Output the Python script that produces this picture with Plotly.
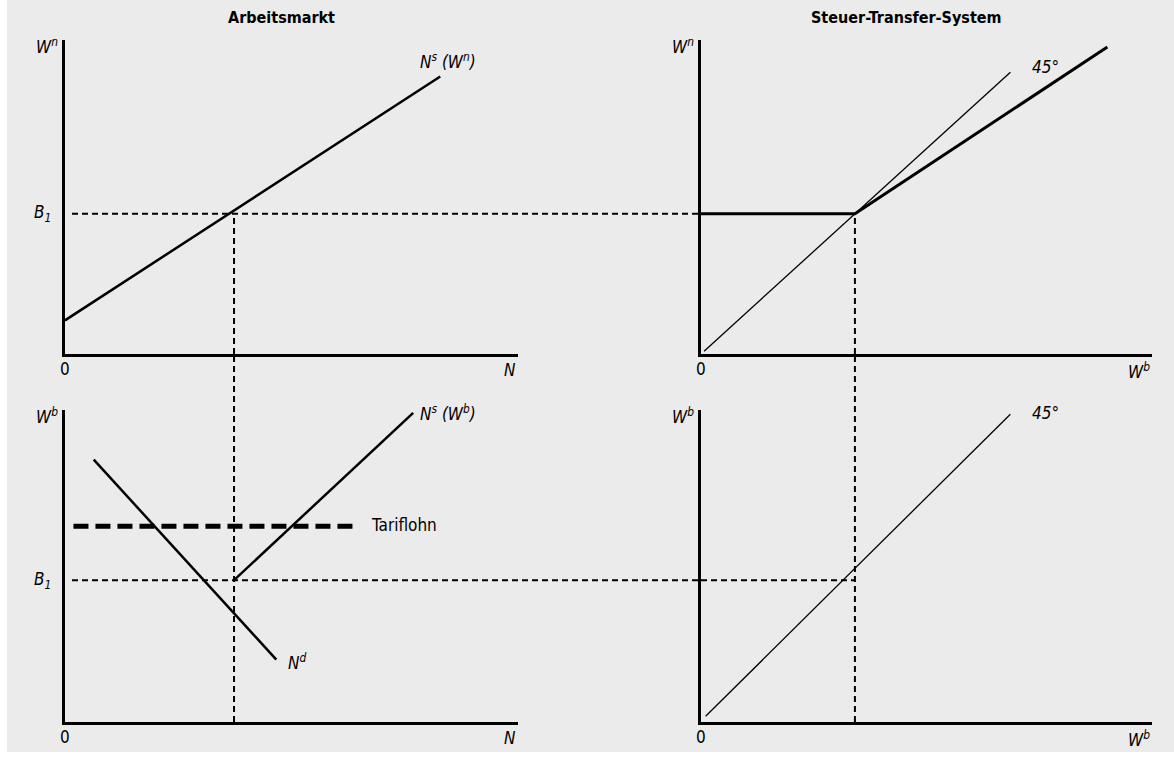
import plotly.graph_objects as go

# schematic values, abstract units (B1 = equilibrium wage, N1 = employment)
b1 = 10
n1 = 10

# Arbeitsmarkt, oben: Angebot in Abhaengigkeit vom Nettolohn
ns_wn_x = [0, 22.2]
ns_wn_y = [2.4, 19.8]

# Steuer-Transfer-System, oben: Nettolohn ueber Bruttolohn
tax_x = [0, 10, 26.4]
tax_y = [10, 10, 21.9]
deg45_top_x = [0.2, 20.1]
deg45_top_y = [0.2, 20.1]

# Arbeitsmarkt, unten: Nachfrage, Angebot (Bruttolohn), Tariflohn
nd_x = [1.7, 12.5]
nd_y = [18.5, 4.4]
ns_wb_x = [10, 20.6]
ns_wb_y = [10, 21.8]
tarif_x = [0.5, 17.3]
tarif_y = [13.8, 13.8]

# unten rechts: 45 Grad
deg45_bot_x = [0.3, 20.1]
deg45_bot_y = [0.4, 21.7]

# axis ranges
n_range = [0, 26.8]
wb_range = [0, 29.3]
wn_range = [0, 22.4]
wb_y_range = [0, 22.0]

W, H = 1174, 757
FONT = 'Liberation Sans Narrow, DejaVu Sans Condensed, Arial Narrow, sans-serif'
BG = '#ebebeb'

# panel domains (paper)
dom_left = [65 / W, 518 / W]
dom_right = [701 / W, 1152 / W]
dom_top = [(H - 354) / H, (H - 40) / H]
dom_bot = [(H - 722) / H, (H - 410) / H]

fig = go.Figure()


def line(x, y, ax, width=2.5, dash=None):
    fig.add_trace(go.Scatter(
        x=x, y=y, xaxis='x' + ax, yaxis='y' + ax, mode='lines',
        line=dict(color='black', width=width, dash=dash),
        showlegend=False, hoverinfo='skip'))


DASH = '6px,4px'

# top left
line(ns_wn_x, ns_wn_y, '')
line([n1, n1], [0, b1], '', width=2, dash=DASH)
# top right
line(deg45_top_x, deg45_top_y, '2', width=1.3)
line(tax_x, tax_y, '2', width=3)
line([b1, b1], [0, b1], '2', width=2, dash=DASH)
# bottom left
line(tarif_x, tarif_y, '3', width=5, dash='15px,7px')
line(nd_x, nd_y, '3')
line(ns_wb_x, ns_wb_y, '3')
# bottom right
line(deg45_bot_x, deg45_bot_y, '4', width=1.3)
line([0, b1], [b1, b1], '4', width=2, dash=DASH)

# guide lines that cross between panels
shapes = [
    dict(type='rect', xref='paper', yref='paper', x0=7 / W, x1=1, y0=5 / H, y1=1,
         fillcolor=BG, line=dict(width=0), layer='below'),
    dict(type='line', xref='paper', yref='y', x0=dom_left[0] + 7 / W, x1=dom_right[0],
         y0=b1, y1=b1, line=dict(color='black', width=2, dash=DASH)),
    dict(type='line', xref='paper', yref='y3', x0=dom_left[0] + 7 / W, x1=dom_right[0],
         y0=b1, y1=b1, line=dict(color='black', width=2, dash=DASH)),
    dict(type='line', xref='x', yref='paper', x0=n1, x1=n1,
         y0=dom_bot[0], y1=dom_top[0], line=dict(color='black', width=2, dash=DASH)),
    dict(type='line', xref='x2', yref='paper', x0=b1, x1=b1,
         y0=dom_bot[0], y1=dom_top[0], line=dict(color='black', width=2, dash=DASH)),
]

axis_style = dict(showline=True, linecolor='black', linewidth=2.5, showgrid=False,
                  zeroline=False, showticklabels=False, ticks='', fixedrange=True)

fig.update_layout(
    width=W, height=H, autosize=False,
    margin=dict(l=0, r=0, t=0, b=0),
    paper_bgcolor='white', plot_bgcolor=BG,
    font=dict(family=FONT, color='black', size=17),
    shapes=shapes,
    xaxis=dict(domain=dom_left, range=n_range, anchor='y', **axis_style),
    yaxis=dict(domain=dom_top, range=wn_range, anchor='x', **axis_style),
    xaxis2=dict(domain=dom_right, range=wb_range, anchor='y2', **axis_style),
    yaxis2=dict(domain=dom_top, range=wn_range, anchor='x2', **axis_style),
    xaxis3=dict(domain=dom_left, range=n_range, anchor='y3', **axis_style),
    yaxis3=dict(domain=dom_bot, range=wb_y_range, anchor='x3', **axis_style),
    xaxis4=dict(domain=dom_right, range=wb_range, anchor='y4', **axis_style),
    yaxis4=dict(domain=dom_bot, range=wb_y_range, anchor='x4', **axis_style),
)

ann = []


def label(text, x, y, xref, yref, xanchor='left', yanchor='middle', xshift=0, yshift=0,
          size=17):
    ann.append(dict(text=text, x=x, y=y, xref=xref, yref=yref, showarrow=False,
                    xanchor=xanchor, yanchor=yanchor, xshift=xshift, yshift=yshift,
                    font=dict(size=size)))


# titles
label('<b>Arbeitsmarkt</b>', 281 / W, 1 - 18 / H, 'paper', 'paper', xanchor='center', size=16)
label('<b>Steuer-Transfer-System</b>', 906 / W, 1 - 18 / H, 'paper', 'paper',
      xanchor='center', size=16)

# axis labels
for ax, ylab, xlab in [('', '<i>W<sup>n</sup></i>', '<i>N</i>'),
                       ('2', '<i>W<sup>n</sup></i>', '<i>W<sup>b</sup></i>'),
                       ('3', '<i>W<sup>b</sup></i>', '<i>N</i>'),
                       ('4', '<i>W<sup>b</sup></i>', '<i>W<sup>b</sup></i>')]:
    xd, yd = 'x' + ax + ' domain', 'y' + ax + ' domain'
    label('0', 0, 0, xd, yd, xanchor='center', yanchor='top', yshift=-3)
    label(xlab, 1, 0, xd, yd, xanchor='right', yanchor='top', yshift=-4)
    label(ylab, 0, 1, xd, yd, xanchor='right', yanchor='middle', xshift=-5, yshift=-6)

label('<i>B<sub>1</sub></i>', 0, b1, 'x domain', 'y', xanchor='right', xshift=-12)
label('<i>B<sub>1</sub></i>', 0, b1, 'x3 domain', 'y3', xanchor='right', xshift=-12)

# curve labels
label('<i>N<sup>s</sup> (W<sup>n</sup>)</i>', 20.9, 20.9, 'x', 'y')
label('<i>45°</i>', 21.4, 20.5, 'x2', 'y2')
label('<i>N<sup>s</sup> (W<sup>b</sup>)</i>', 20.9, 21.8, 'x3', 'y3')
label('Tariflohn', 18.0, 13.9, 'x3', 'y3')
label('<i>N<sup>d</sup></i>', 13.1, 4.2, 'x3', 'y3')
label('<i>45°</i>', 21.4, 21.8, 'x4', 'y4')

fig.update_layout(annotations=ann)

fig.write_html('out.html', config=dict(displayModeBar=False),
               post_script="document.body.style.margin='0';")
